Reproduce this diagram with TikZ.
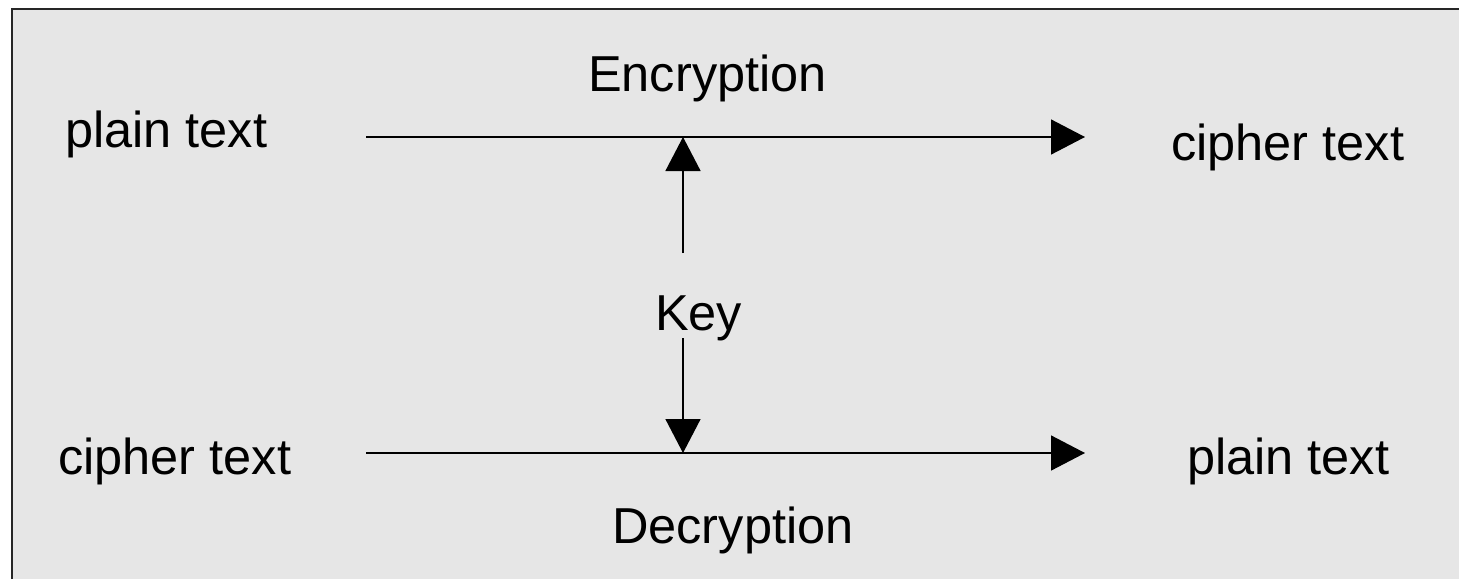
\documentclass[tikz,border=0pt]{standalone}
\usepackage{fontspec}
\setmainfont{Liberation Sans}
\usetikzlibrary{arrows.meta}
\definecolor{panel}{RGB}{230,230,230}
\tikzset{
  lbl/.style={inner sep=0pt, anchor=base west, font=\fontsize{50.5}{60}\selectfont},
  flow/.style={line width=1.5pt, -{Triangle[length=34pt,width=35pt]}},
}
\begin{document}
\begin{tikzpicture}[x=1pt,y=-1pt]
\useasboundingbox (0,0) rectangle (1459,579);
% panel with its top and left frame edges
\fill[panel] (12,9) rectangle (1459,579);
\draw[line width=2.2pt, black!85] (12,579) -- (12,9) -- (1459,9);

% labels
\node[lbl] (ptin)  at (65,147)   {plain text};
\node[lbl] (enc)   at (588,91)   {Encryption};
\node[lbl] (ctout) at (1171,160) {cipher text};
\node[lbl] (key)   at (655,330)  {Key};
\node[lbl] (ctin)  at (58,474)   {cipher text};
\node[lbl] (ptout) at (1187,474) {plain text};
\node[lbl] (dec)   at (612,543)  {Decryption};

% arrow end points
\coordinate (es) at (366,137);
\coordinate (ee) at (1085,137);
\coordinate (em) at (683,137);
\coordinate (ds) at (366,453);
\coordinate (de) at (1085,453);
\coordinate (dm) at (683,453);
\coordinate (ku) at (683,253);
\coordinate (kd) at (683,338);

% encryption and decryption flows
\draw[flow] (es) -- (ee);
\draw[flow] (ds) -- (de);
% key feeding both
\draw[flow] (ku) -- (em);
\draw[flow] (kd) -- (dm);
\end{tikzpicture}
\end{document}
